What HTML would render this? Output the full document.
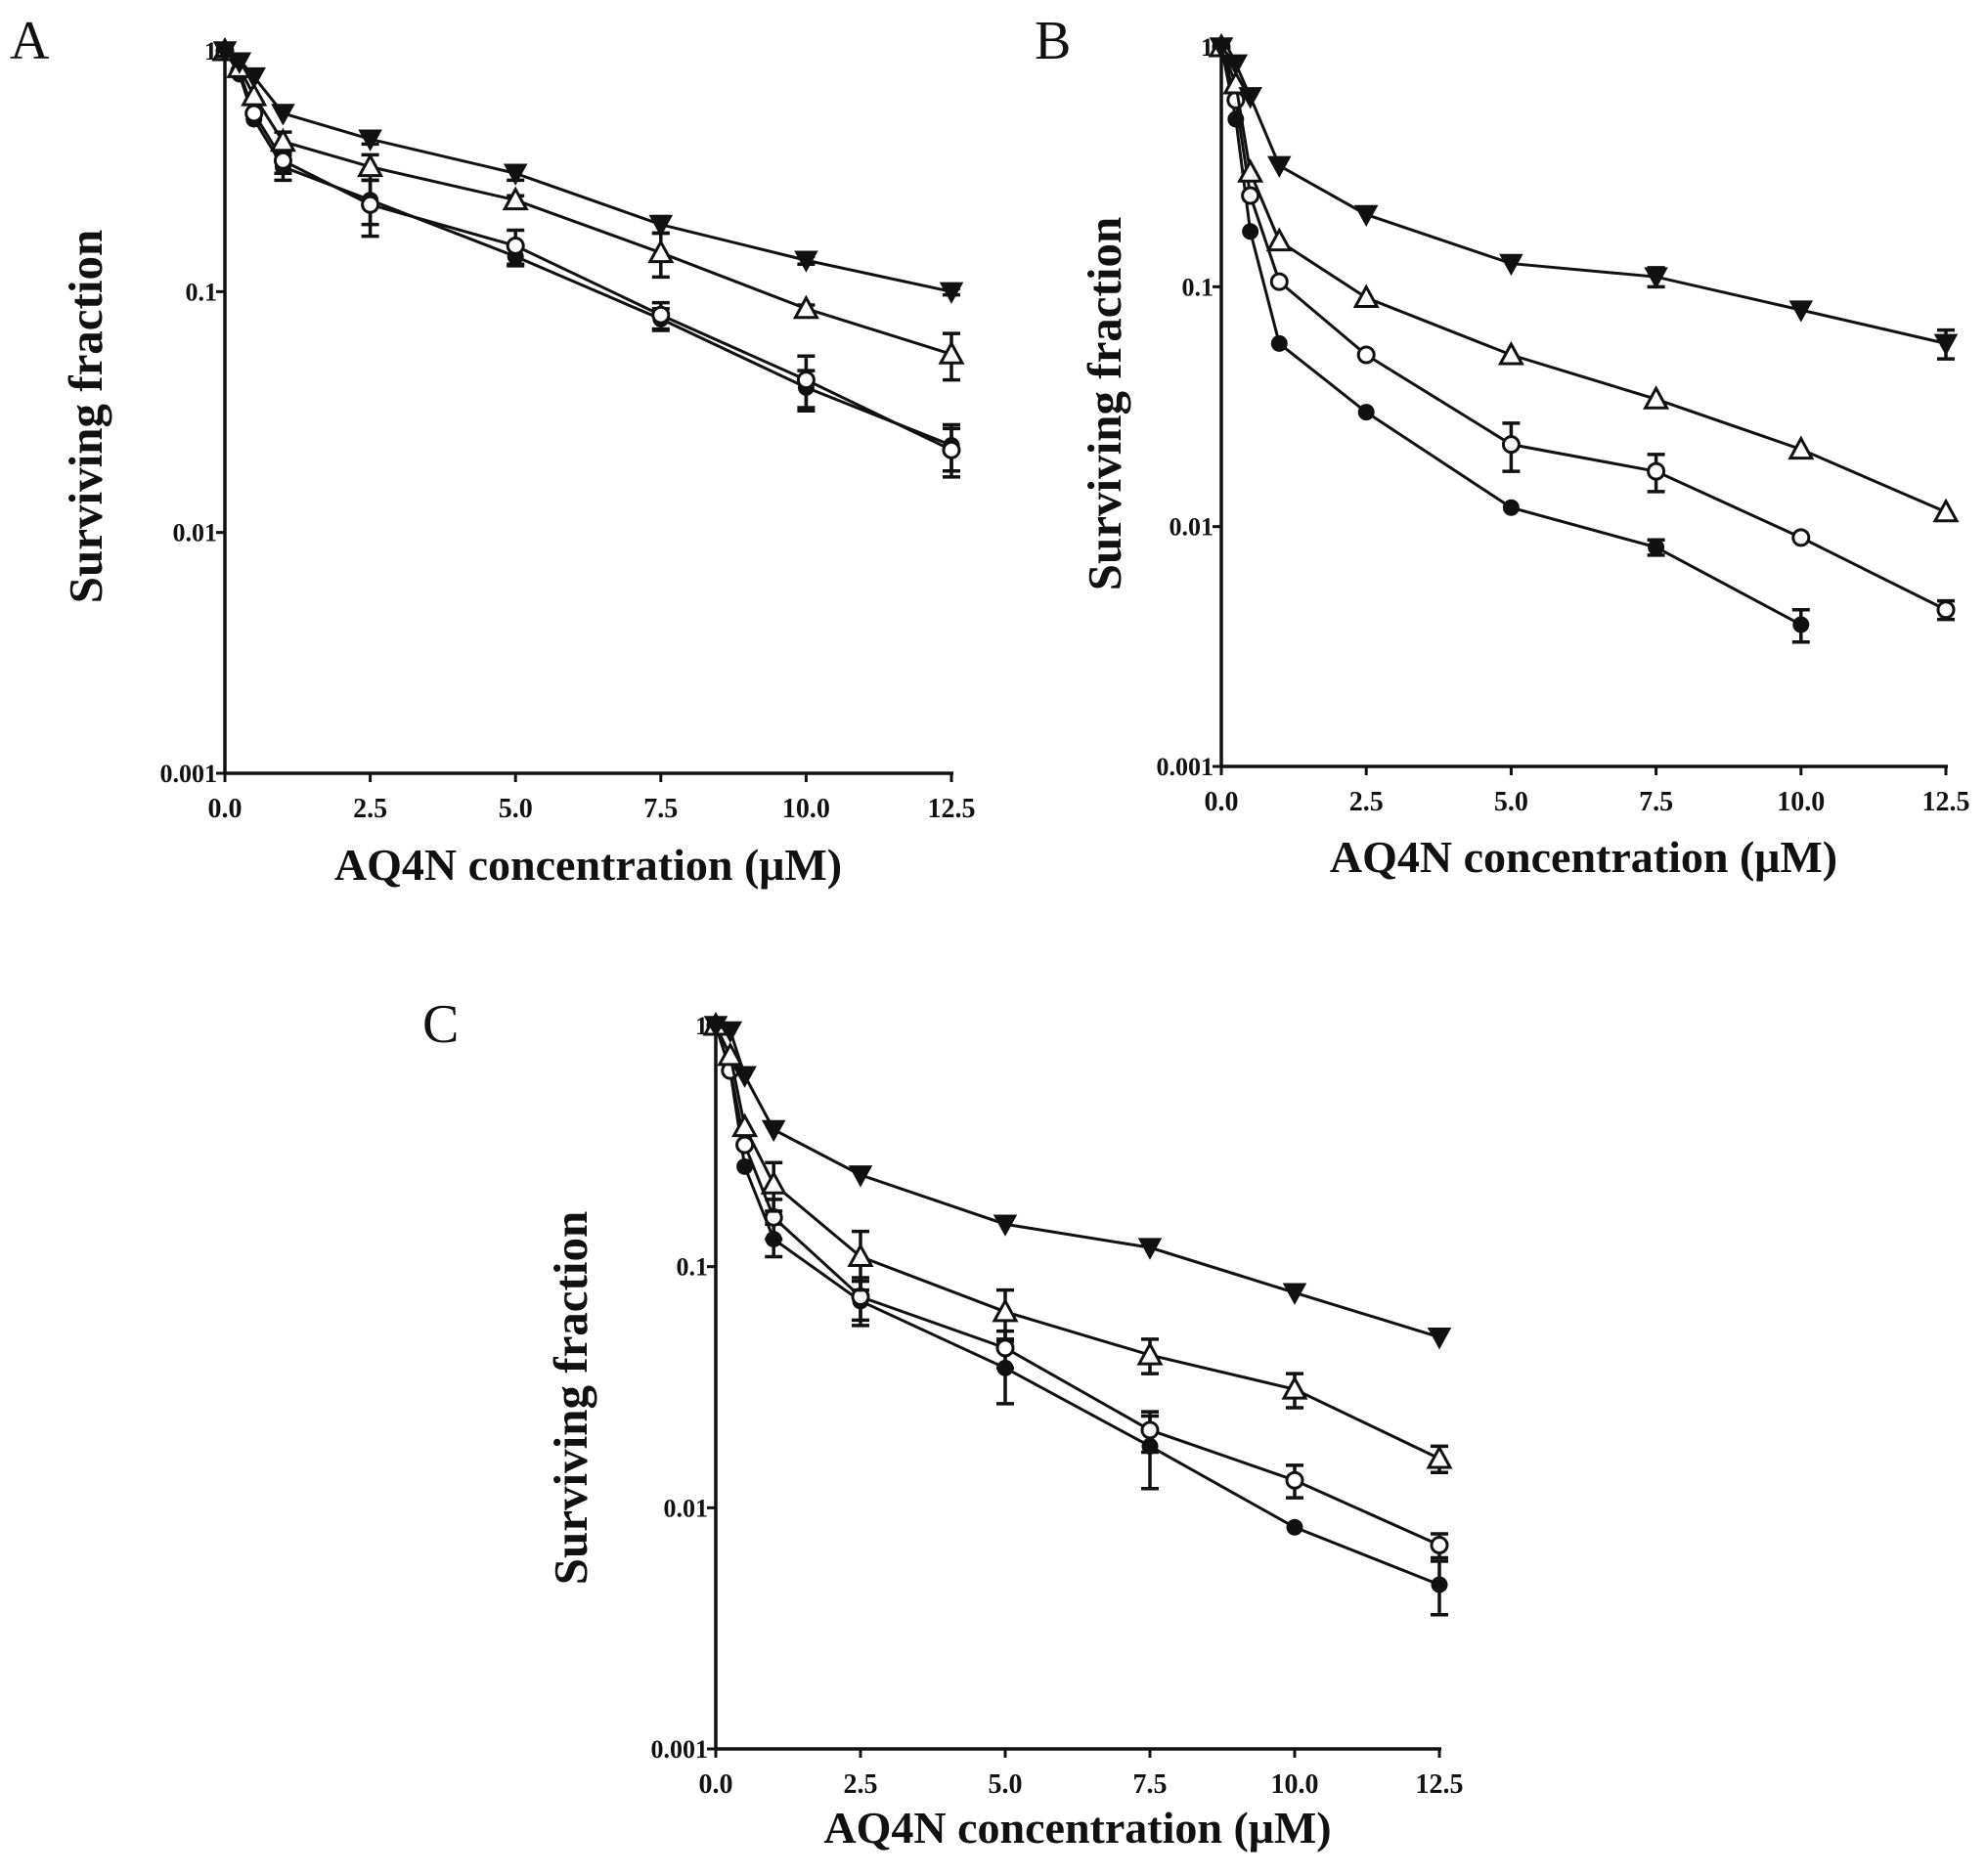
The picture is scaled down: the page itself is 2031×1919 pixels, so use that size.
<!DOCTYPE html>
<html><head><meta charset="utf-8">
<style>
html,body{margin:0;padding:0;background:#fff;}
svg{display:block;}
text{font-family:"Liberation Serif",serif;fill:#111;}
</style></head>
<body>
<svg id="fig" width="2031" height="1919" viewBox="0 0 2031 1919" xmlns="http://www.w3.org/2000/svg"></svg>
<script>
const xValues = [0, 0.25, 0.5, 1, 2.5, 5, 7.5, 10, 12.5];
const xTicks = [0, 2.5, 5, 7.5, 10, 12.5];
const xTickLabels = ["0.0","2.5","5.0","7.5","10.0","12.5"];
const yTicks = [1, 0.1, 0.01, 0.001];
const yTickLabels = ["1","0.1","0.01","0.001"];

const aTriDown = [1, 0.9, 0.78, 0.55, 0.43, 0.31, 0.19, 0.135, 0.1];
const aTriOpen = [1, 0.85, 0.65, 0.42, 0.33, 0.24, 0.145, 0.085, 0.055];
const aCircOpen = [1, 0.82, 0.55, 0.35, 0.23, 0.155, 0.08, 0.043, 0.022];
const aCircFill = [1, 0.8, 0.52, 0.33, 0.24, 0.14, 0.077, 0.04, 0.023];
const aErrTriDown = [0.05,0,0,0,0.02,0.02,0.015,0.005,0.003];
const aErrTriOpen = [0,0,0,0.04,0.04,0.01,0.03,0.003,0.012];
const aErrCircOpen = [0,0,0,0.04,0.06,0.025,0.01,0.011,0.005];
const aErrCircFill = [0,0,0,0.04,0.05,0.012,0.008,0.007,0.005];

const bTriDown = [1, 0.85, 0.62, 0.32, 0.2, 0.125, 0.11, 0.08, 0.058];
const bTriOpen = [1, 0.7, 0.3, 0.155, 0.09, 0.052, 0.034, 0.021, 0.0115];
const bCircOpen = [1, 0.6, 0.24, 0.105, 0.052, 0.022, 0.017, 0.009, 0.0045];
const bCircFill = [1, 0.5, 0.17, 0.058, 0.03, 0.012, 0.0082, 0.0039, null];
const bErrTriDown = [0,0,0,0,0,0,0.01,0,0.008];
const bErrTriOpen = [0,0,0,0,0,0,0,0,0];
const bErrCircOpen = [0,0,0,0,0,0.005,0.003,0,0.0004];
const bErrCircFill = [0,0,0,0,0,0,0.0006,0.0006,0];

const cTriDown = [1, 0.95, 0.62, 0.37, 0.24, 0.15, 0.12, 0.078, 0.051];
const cTriOpen = [1, 0.75, 0.38, 0.22, 0.11, 0.065, 0.043, 0.031, 0.016];
const cCircOpen = [1, 0.65, 0.32, 0.16, 0.075, 0.046, 0.021, 0.013, 0.007];
const cCircFill = [1, 0.65, 0.26, 0.13, 0.072, 0.038, 0.018, 0.0083, 0.0048];
const cErrTriDown = [0,0,0,0,0,0,0,0,0];
const cErrTriOpen = [0,0,0,0.05,0.03,0.015,0.007,0.005,0.002];
const cErrCircOpen = [0,0,0,0.03,0.015,0.008,0.004,0.002,0.0008];
const cErrCircFill = [0,0,0,0.02,0.015,0.011,0.006,0,0.0012];

const NS = "http://www.w3.org/2000/svg";
const svg = document.getElementById('fig');
function mk(tag, attrs, parent){
  const e = document.createElementNS(NS, tag);
  for (const k in attrs) e.setAttribute(k, attrs[k]);
  (parent||svg).appendChild(e);
  return e;
}

function panel(cfg){
  const g = mk('g', {});
  
  
  const X = v => cfg.x0 + (v/12.5)*(cfg.x1-cfg.x0);
  const Y = v => cfg.yTop + (0 - Math.log10(v)) * (cfg.yBot-cfg.yTop)/3;

  const lbl = mk('text', {x: cfg.lx, y: cfg.ly, 'font-size': 56}, g);
  lbl.textContent = cfg.id.toUpperCase();
  
  

  const ax = mk('path', {d:`M${cfg.x0},${cfg.yTop-8} L${cfg.x0},${cfg.yBot} L${cfg.x1+2},${cfg.yBot}`, fill:'none', stroke:'#111', 'stroke-width':3.5}, g);
  
  

  xTicks.forEach((t,i)=>{
    const tk = mk('line', {x1:X(t), x2:X(t), y1:cfg.yBot, y2:cfg.yBot+9, stroke:'#111','stroke-width':3}, g);
    
    
    const tl = mk('text', {x:X(t), y:cfg.yBot+45, 'font-size':28, 'font-weight':'bold', 'text-anchor':'middle'}, g);
    tl.textContent = xTickLabels[i];
    
    
  });
  yTicks.forEach((t,i)=>{
    const tk = mk('line', {x1:cfg.x0-9, x2:cfg.x0, y1:Y(t), y2:Y(t), stroke:'#111','stroke-width':3}, g);
    
    
    const tl = mk('text', {x:cfg.x0-8, y:Y(t)+9, 'font-size':26, 'font-weight':'bold', 'text-anchor':'end'}, g);
    tl.textContent = yTickLabels[i];
    
    
  });
  const xt = mk('text', {x:(cfg.x0+cfg.x1)/2, y:cfg.xty, 'font-size':46, 'font-weight':'bold', 'text-anchor':'middle'}, g);
  xt.textContent = 'AQ4N concentration (\u03bcM)';
  
  
  const yt = mk('text', {x:0, y:0, 'font-size':49, 'font-weight':'bold', 'text-anchor':'middle', transform:`translate(${cfg.ytx},${cfg.yty}) rotate(-90)`}, g);
  yt.textContent = 'Surviving fraction';
  
  

  cfg.series.forEach(s=>{
    const sg = mk('g', {}, g);
    
    
    let d = '';
    s.vals.forEach((v,i)=>{ if (v==null) return; d += (d?'L':'M') + X(xValues[i]) + ',' + Y(v); });
    const ln = mk('path', {d, fill:'none', stroke:'#111', 'stroke-width':3}, sg);
    
    
    s.vals.forEach((v,i)=>{
      if (v==null) return;
      const e = s.err[i];
      const cx = X(xValues[i]);
      if (e>0){
        const yt1 = Y(v+e), yb1 = Y(Math.max(v-e, v*0.3));
        const eb = mk('path', {d:`M${cx},${yt1}L${cx},${yb1}M${cx-9},${yt1}L${cx+9},${yt1}M${cx-9},${yb1}L${cx+9},${yb1}`, stroke:'#111','stroke-width':3.5, fill:'none'}, sg);
        
        
      }
      const cy = Y(v);
      let m;
      if (s.shape==='tridown'){
        m = mk('path', {d:`M${cx-11},${cy-9}L${cx+11},${cy-9}L${cx},${cy+11}Z`, fill:'#111', stroke:'#111','stroke-width':1.5}, sg);
      } else if (s.shape==='triopen'){
        m = mk('path', {d:`M${cx},${cy-11}L${cx+11},${cy+9}L${cx-11},${cy+9}Z`, fill:'#fff', stroke:'#111','stroke-width':3}, sg);
      } else if (s.shape==='circopen'){
        m = mk('circle', {cx, cy, r:8, fill:'#fff', stroke:'#111','stroke-width':3}, sg);
      } else {
        m = mk('circle', {cx, cy, r:8.5, fill:'#111'}, sg);
      }
      
      
    });
  });
}

panel({id:'a', x0:230, x1:973, yTop:52, yBot:791, lx:10, ly:60, xty:900, ytx:104, yty:426,
  series:[
    {name:'filled-circle', shape:'circfill', vals:aCircFill, err:aErrCircFill},
    {name:'open-circle', shape:'circopen', vals:aCircOpen, err:aErrCircOpen},
    {name:'open-triangle', shape:'triopen', vals:aTriOpen, err:aErrTriOpen},
    {name:'filled-down-triangle', shape:'tridown', vals:aTriDown, err:aErrTriDown}]});
panel({id:'b', x0:1249, x1:1990, yTop:48, yBot:784, lx:1058, ly:60, xty:892, ytx:1146, yty:413,
  series:[
    {name:'filled-circle', shape:'circfill', vals:bCircFill, err:bErrCircFill},
    {name:'open-circle', shape:'circopen', vals:bCircOpen, err:bErrCircOpen},
    {name:'open-triangle', shape:'triopen', vals:bTriOpen, err:bErrTriOpen},
    {name:'filled-down-triangle', shape:'tridown', vals:bTriDown, err:bErrTriDown}]});
panel({id:'c', x0:732, x1:1472, yTop:1049, yBot:1789, lx:432, ly:1066, xty:1885, ytx:600, yty:1430,
  series:[
    {name:'filled-circle', shape:'circfill', vals:cCircFill, err:cErrCircFill},
    {name:'open-circle', shape:'circopen', vals:cCircOpen, err:cErrCircOpen},
    {name:'open-triangle', shape:'triopen', vals:cTriOpen, err:cErrTriOpen},
    {name:'filled-down-triangle', shape:'tridown', vals:cTriDown, err:cErrTriDown}]});
</script>
</body></html>
